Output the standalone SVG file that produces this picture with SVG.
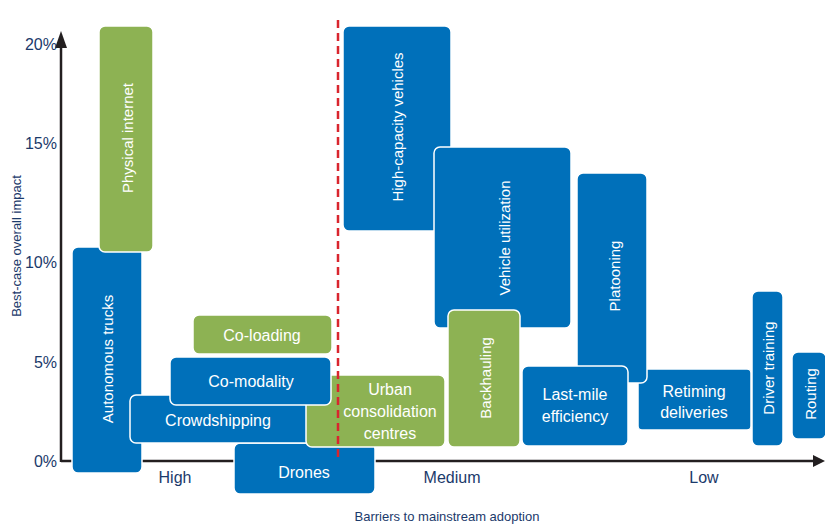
<svg xmlns="http://www.w3.org/2000/svg" width="825" height="526" viewBox="0 0 825 526">
<style>
.b{fill:#0070ba;stroke:#fff;stroke-width:1.5}
.g{fill:#8db253;stroke:#fff;stroke-width:1.5}
.t{fill:#fff;font-family:"Liberation Sans",Arial,sans-serif;font-size:16px;text-anchor:middle}
.v{fill:#fff;font-family:"Liberation Sans",Arial,sans-serif;font-size:15px;text-anchor:middle;dominant-baseline:central}
.a{fill:#1b3a6b;font-family:"Liberation Sans",Arial,sans-serif;font-size:16px}
.s{fill:#1b3a6b;font-family:"Liberation Sans",Arial,sans-serif;font-size:13px;text-anchor:middle}
</style>
<rect width="825" height="526" fill="#fff"/>
<g id="axes">
<line x1="61" y1="461" x2="815" y2="461" stroke="#231f20" stroke-width="2.5"/>
<polygon points="825,461 813,455 813,467" fill="#231f20"/>
<line x1="61" y1="462" x2="61" y2="45" stroke="#231f20" stroke-width="2.5"/>
<polygon points="61,31 55,48 67,48" fill="#231f20"/>
<text class="a" x="57" y="50" text-anchor="end">20%</text>
<text class="a" x="57" y="149" text-anchor="end">15%</text>
<text class="a" x="57" y="268" text-anchor="end">10%</text>
<text class="a" x="57" y="368" text-anchor="end">5%</text>
<text class="a" x="57" y="467" text-anchor="end">0%</text>
<text class="s" transform="translate(16,246) rotate(-90)" dominant-baseline="central">Best-case overall impact</text>
<text class="a" x="175" y="483" text-anchor="middle">High</text>
<text class="a" x="452" y="483" text-anchor="middle">Medium</text>
<text class="a" x="704" y="483" text-anchor="middle">Low</text>
<text class="s" x="447" y="521">Barriers to mainstream adoption</text>
</g>
<g id="autonomous-trucks"><rect class="b" x="72" y="247" width="70" height="226" rx="6"/><text class="v" transform="translate(107,359) rotate(-90)">Autonomous trucks</text></g>
<g id="physical-internet"><rect class="g" x="99" y="26" width="54" height="226" rx="6"/><text class="v" transform="translate(127,138) rotate(-90)">Physical internet</text></g>
<g id="drones"><rect class="b" x="234" y="443" width="141" height="51" rx="6"/><text class="t" x="304" y="478">Drones</text></g>
<g id="crowdshipping"><rect class="b" x="130" y="395" width="190" height="48" rx="6"/><text class="t" x="218" y="426">Crowdshipping</text></g>
<g id="urban-consolidation-centres"><rect class="g" x="306" y="375" width="139" height="72" rx="6"/><text class="t" x="390" y="395">Urban</text><text class="t" x="390" y="417">consolidation</text><text class="t" x="390" y="439">centres</text></g>
<g id="co-modality"><rect class="b" x="170" y="357" width="161" height="48" rx="6"/><text class="t" x="251" y="387">Co-modality</text></g>
<g id="co-loading"><rect class="g" x="193" y="315" width="139" height="39" rx="6"/><text class="t" x="262" y="341">Co-loading</text></g>
<g id="high-capacity-vehicles"><rect class="b" x="343" y="26" width="108" height="205" rx="6"/><text class="v" transform="translate(397,127) rotate(-90)">High-capacity vehicles</text></g>
<g id="vehicle-utilization"><rect class="b" x="434" y="147" width="137" height="181" rx="6"/><text class="v" transform="translate(504,238) rotate(-90)">Vehicle utilization</text></g>
<g id="backhauling"><rect class="g" x="448" y="310" width="72" height="137" rx="6"/><text class="v" transform="translate(485,378) rotate(-90)">Backhauling</text></g>
<g id="retiming-deliveries"><rect class="b" x="638" y="369" width="113" height="61" rx="4"/><text class="t" x="694" y="397">Retiming</text><text class="t" x="694" y="418">deliveries</text></g>
<g id="platooning"><rect class="b" x="577" y="173" width="70" height="210" rx="6"/><text class="v" transform="translate(614,276) rotate(-90)">Platooning</text></g>
<g id="last-mile-efficiency"><rect class="b" x="522" y="366" width="106" height="80" rx="6"/><text class="t" x="575" y="400">Last-mile</text><text class="t" x="575" y="422">efficiency</text></g>
<g id="driver-training"><rect class="b" x="752" y="291" width="31" height="155" rx="6"/><text class="v" transform="translate(768,368) rotate(-90)">Driver training</text></g>
<g id="routing"><rect class="b" x="792" y="352" width="34" height="87" rx="6"/><text class="v" transform="translate(810,394) rotate(-90)">Routing</text></g>
<g id="connectors"><line x1="338" y1="20" x2="338" y2="461" stroke="#d9252e" stroke-width="2.5" stroke-dasharray="8,5"/></g>
</svg>
